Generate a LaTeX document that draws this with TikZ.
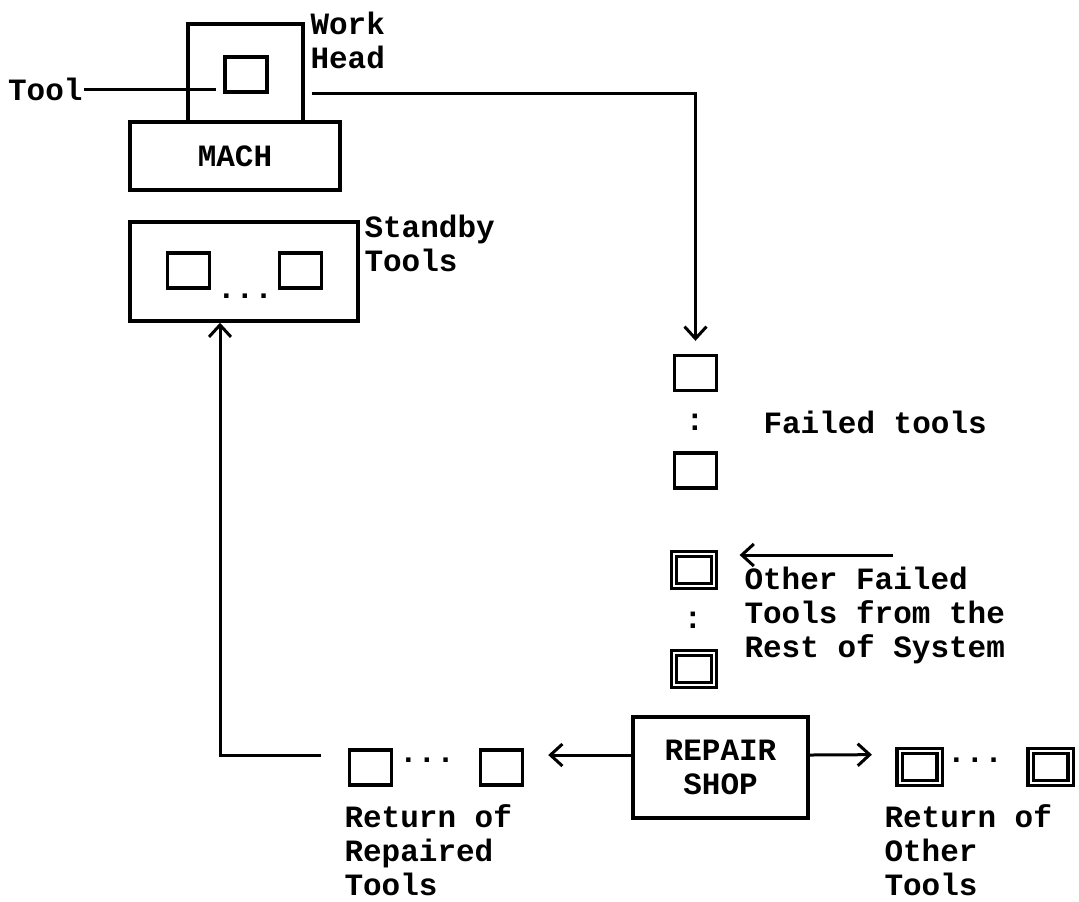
\documentclass[tikz,border=0pt]{standalone}
\usepackage{fontspec}
\setmonofont{Liberation Mono}
\usetikzlibrary{positioning,arrows.meta}

\begin{document}
\begin{tikzpicture}
        [x=0.5pt,y=-0.5pt,
        line width=1.5pt,
        >={Straight Barb[length=6pt,width=11pt]},
        every node/.style={font=\ttfamily\bfseries\fontsize{15.5}{17}\selectfont,inner sep=0pt},
        box/.style={draw,rectangle,line width=1.7pt},
        tool/.style={draw,rectangle,line width=1.7pt,minimum width=21pt,minimum height=17.5pt},
        other/.style={draw,rectangle,double,double distance=1pt,line width=1.6pt,minimum width=20pt,minimum height=16pt},
        txt/.style={align=left,anchor=north west}]
        \useasboundingbox (0,0) rectangle (1079,901);
        % machine with work head
        \node[box,minimum width=57.5pt,minimum height=49pt] (head) at (245.5,73) {};
        \node[box,minimum width=105pt,minimum height=34pt] (mach) at (235,156) {MACH};
        \node[tool] (spindle) at (246,74.5) {};
        \node[anchor=east] (tooltxt) at (84,89) {Tool};
        \node[txt] (headtxt) at (309,11) {Work\\Head};
        % standby tools
        \node[box,minimum width=114pt,minimum height=49.5pt] (standby) at (244,271.5) {};
        \node[tool] (sb1) at (188.5,270.5) {};
        \node[tool] (sb2) at (300.5,270.5) {};
        \node[anchor=base] (sbdots) at (245,298) {...};
        \node[txt] (sbtxt) at (363,214) {Standby\\Tools};
        % failed tools queue
        \node[tool] (f1) at (695.5,373) {};
        \node (fcolon) at (695,422) {:};
        \node[tool] (f2) at (695.5,470.5) {};
        \node[anchor=west] (ftxt) at (762,422) {Failed tools};
        \node[other] (o1) at (694,570) {};
        \node (ocolon) at (693,620) {:};
        \node[other] (o2) at (694,669) {};
        \coordinate (oin) at (893,555);
        \node[txt] (otxt) at (743,566) {Other Failed\\Tools from the\\Rest of System};
        % repair shop and returns
        \node[box,minimum width=87.5pt,minimum height=50.5pt,align=center] (repair) at (720.5,767.5) {REPAIR\\SHOP};
        \node[tool] (r1) at (370.5,767.5) {};
        \node[tool] (r2) at (501.5,767.5) {};
        \node[anchor=base] (rdots) at (427,762) {...};
        \node[other] (d1) at (919.5,767) {};
        \node[other] (d2) at (1050.5,767) {};
        \node[anchor=base] (ddots) at (975,762) {...};
        \node[txt] (rtxt) at (343,803) {Return of\\Repaired\\Tools};
        \node[txt] (dtxt) at (883,803) {Return of\\Other\\Tools};
        % connectors
        \draw[shorten >=3.5pt] (tooltxt.east) -- (spindle.west |- tooltxt.east);
        \draw[->,shorten <=3.5pt,shorten >=6.5pt] (head.east |- spindle.south) -| (f1.north);
        \draw[->,shorten >=12pt] (oin) -- (o1.east |- oin);
        \draw[->,shorten >=12pt] ([yshift=6.25pt]repair.west) -- ([yshift=6.25pt]r2.east);
        \draw[->,shorten >=13pt] ([yshift=6.25pt]repair.east) -- ([yshift=6.25pt]d1.west);
        \draw[->,shorten <=13.25pt] ([yshift=6.25pt]r1.west) -| ([xshift=-12pt]standby.south);
\end{tikzpicture}
\end{document}
